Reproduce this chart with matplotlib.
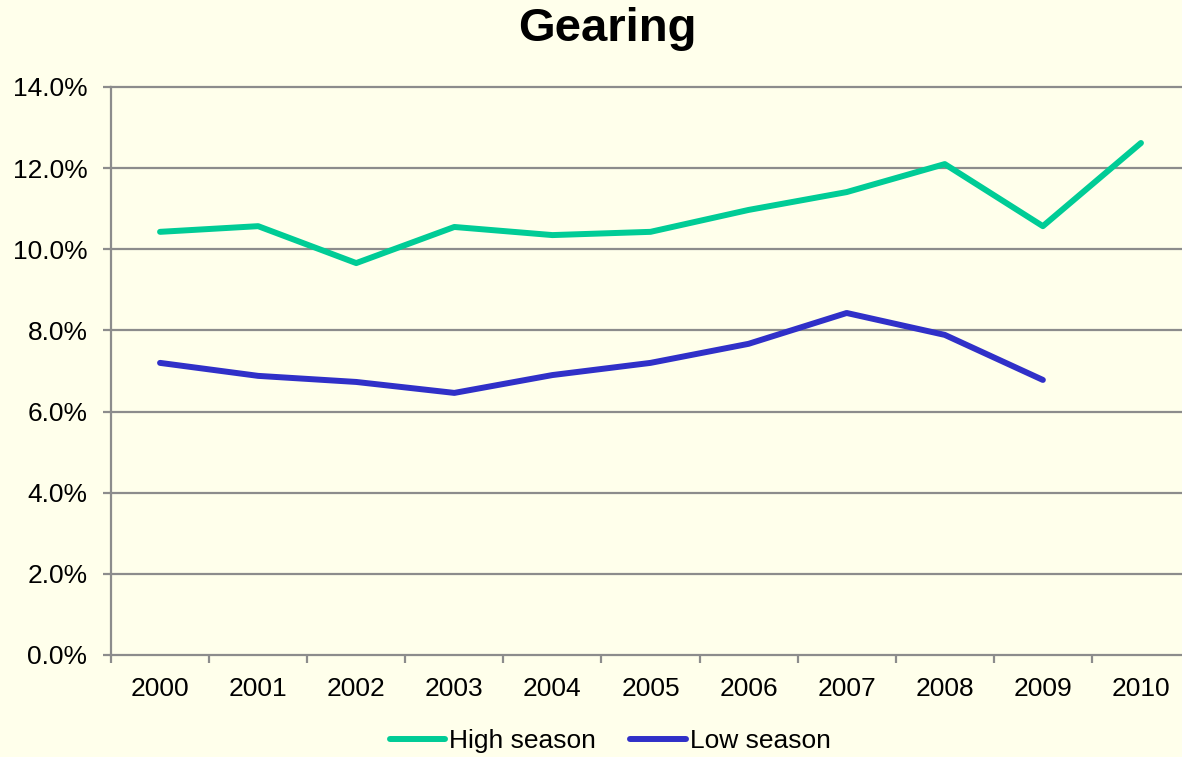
import matplotlib
matplotlib.use("Agg")
import matplotlib.pyplot as plt
from matplotlib.ticker import FuncFormatter, FixedLocator

plt.rcParams['font.family'] = ['Liberation Sans', 'DejaVu Sans']

years = ["2000", "2001", "2002", "2003", "2004", "2005",
         "2006", "2007", "2008", "2009", "2010"]
high_season = [10.43, 10.57, 9.66, 10.55, 10.35, 10.43,
               10.97, 11.41, 12.10, 10.57, 12.62]
low_season = [7.20, 6.88, 6.73, 6.46, 6.90, 7.20,
              7.67, 8.43, 7.89, 6.78]
y_ticks = [0, 2, 4, 6, 8, 10, 12, 14]

bg = "#FFFFEB"
grid_c = "#8C8C8C"

fig = plt.figure(figsize=(11.82, 7.57), dpi=100, facecolor=bg)
W, H = 1182, 757
ax = fig.add_axes([111 / W, 1 - 655 / H, (1190 - 111) / W, (655 - 87) / H])
ax.set_facecolor(bg)

# horizontal gridlines, unclipped so the top one keeps its full width
for v in y_ticks[1:]:
    ax.axhline(v, color=grid_c, lw=1.6, clip_on=False, zorder=0.5)

x_high = list(range(len(high_season)))
x_low = list(range(len(low_season)))
ax.plot(x_high, high_season, color="#00CC96", lw=4.3,
        solid_capstyle="round", solid_joinstyle="round", label="High season")
ax.plot(x_low, low_season, color="#3030C8", lw=4.3,
        solid_capstyle="round", solid_joinstyle="round", label="Low season")

ax.set_xlim(-0.5, len(years) - 0.5)
ax.set_ylim(0, 14)
ax.set_yticks(y_ticks)
ax.yaxis.set_major_formatter(FuncFormatter(lambda v, p: f"{v:.1f}%"))

# category labels centred, ticks on category boundaries
ax.set_xticks(range(len(years)))
ax.set_xticklabels(years)
ax.xaxis.set_minor_locator(FixedLocator([i - 0.5 for i in range(len(years) + 1)]))
ax.tick_params(axis="x", which="major", length=0, pad=16, labelsize=19)
ax.tick_params(axis="x", which="minor", length=6, width=1.6, color=grid_c)
ax.tick_params(axis="y", length=6, width=1.6, color=grid_c, labelsize=19, pad=11)

for s in ["top", "right"]:
    ax.spines[s].set_visible(False)
for s in ["left", "bottom"]:
    ax.spines[s].set_color(grid_c)
    ax.spines[s].set_linewidth(1.6)

fig.text(607 / W, 1 - 29 / H, "Gearing", ha="center", va="center",
         fontsize=34, fontweight="bold")

fig.legend(loc="center", bbox_to_anchor=(610 / W, 1 - 741 / H), ncol=2,
           frameon=False, fontsize=19, handlelength=2.1, handletextpad=0.15,
           columnspacing=1.3)

fig.savefig("out.png", dpi=100, facecolor=bg)
